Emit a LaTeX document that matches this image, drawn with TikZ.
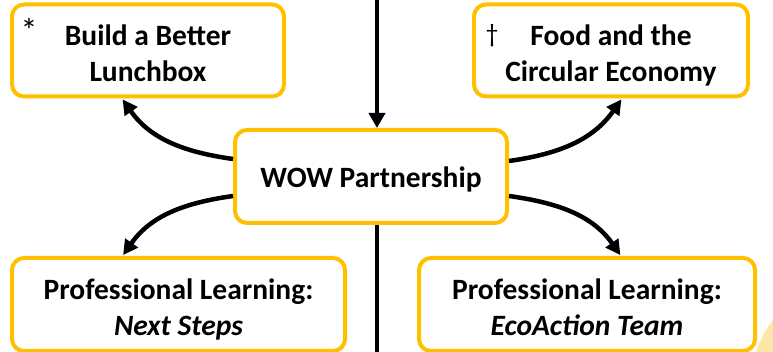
\documentclass[tikz,border=0pt]{standalone}
\usepackage{fontspec}
\setmainfont{Carlito}
\usetikzlibrary{arrows.meta}
\definecolor{gold}{HTML}{FFC000}
\definecolor{paleyellow}{HTML}{FCE8A6}
\newcommand{\boxlines}[2][6pt]{\raisebox{-#1}[\height][\depth]{\begin{tabular}{@{}c@{}}#2\end{tabular}}}
\begin{document}
\begin{tikzpicture}[x=1pt,y=1pt,
  box/.style={draw=gold, line width=4pt, rounded corners=12pt, fill=white,
    inner sep=0pt, font=\fontsize{29.5}{36}\selectfont\bfseries},
  conn/.style={line width=4.5pt, -{Triangle[length=15pt,width=15pt]}, shorten >=1pt},
  vline/.style={line width=4.5pt},
  footmark/.style={inner sep=0pt, font=\fontsize{26}{26}\selectfont}]
\useasboundingbox (0,0) rectangle (773,352);
\fill[paleyellow] (773,32) .. controls (764,20) and (759,10) .. (756,0) -- (773,0) -- cycle;
\coordinate (top) at (377,352);
\coordinate (bot) at (377,0);
\node[box, minimum width=272pt, minimum height=92pt] (tl) at (148,301.5) {\boxlines{Build a Better\\Lunchbox}};
\node[box, minimum width=274pt, minimum height=92pt] (tr) at (611,301.5) {\boxlines{Food and the\\Circular Economy}};
\node[box, minimum width=272pt, minimum height=93pt] (c) at (371,175.5) {\boxlines[4pt]{WOW Partnership}};
\node[box, minimum width=333pt, minimum height=93pt] (bl) at (178.5,47.5) {\boxlines{Professional Learning:\\\textit{Next Steps}}};
\node[box, minimum width=336pt, minimum height=93pt] (br) at (587,47.5) {\boxlines{Professional Learning:\\\textit{EcoAction Team}}};
\node[footmark, font=\fontsize{34}{34}\selectfont] (ast) at (29,322) {*};
\node[footmark] (dag) at (492,316) {\dag};
\draw[vline, -{Triangle[length=15pt,width=16pt]}] (top) -- (top |- c.north);
\draw[vline] (bot |- c.south) -- (bot);
\draw[conn] ([yshift=17.5pt]c.west) to[out=172,in=-55] ([xshift=-26pt]tl.south);
\draw[conn] ([yshift=-19.5pt]c.west) to[out=188,in=55] ([xshift=-56pt]bl.north);
\draw[conn] ([yshift=15.5pt]c.east) to[out=8,in=235] ([xshift=11pt]tr.south);
\draw[conn] ([yshift=-19.5pt]c.east) to[out=-8,in=125] ([xshift=34pt]br.north);
\end{tikzpicture}
\end{document}
